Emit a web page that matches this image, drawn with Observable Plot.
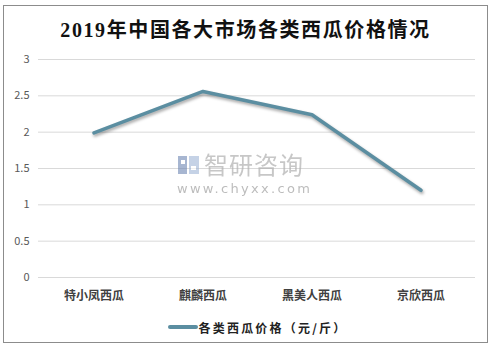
<!DOCTYPE html>
<html><head><meta charset="utf-8">
<script src="https://cdn.jsdelivr.net/npm/d3@7"></script>
<script src="https://cdn.jsdelivr.net/npm/@observablehq/plot@0.6"></script>
<style>
body{margin:0;background:#fff;width:493px;height:351px;overflow:hidden;position:relative;font-family:"Noto Sans CJK SC",sans-serif;}
#box{position:absolute;left:3px;top:5px;width:483px;height:336px;border:1px solid #8c8c8c;background:#fff;}
#title{position:absolute;left:0;top:9px;width:483px;text-align:center;font-family:"Liberation Serif","Noto Sans CJK SC",serif;font-weight:bold;font-size:20px;letter-spacing:1.6px;line-height:30px;color:#111;}
#chart{position:absolute;left:0;top:44px;}
#legend{position:absolute;left:12px;top:306px;width:483px;height:30px;display:flex;justify-content:center;align-items:center;}
#legend .sw{width:30px;height:4px;background:#5b8ea1;border-radius:2px;margin-right:1px;}
#legend .tx{font-size:12px;font-weight:bold;letter-spacing:2.2px;color:#222;}
.wm1{position:absolute;left:204px;top:151px;font-size:24px;line-height:26px;color:#b0b0b0;letter-spacing:1px;opacity:.7}
.wm2{position:absolute;left:177px;top:181px;font-family:"DejaVu Sans",sans-serif;font-size:13px;line-height:15px;color:#a0a0a0;letter-spacing:2.3px;opacity:.7}
.logo{position:absolute;left:177px;top:154px;width:24px;height:22px;opacity:.6}
</style></head>
<body>
<div id="box">
  <div id="title">2019年中国各大市场各类西瓜价格情况</div>
  <div id="chart"></div>
  <div id="legend"><div class="sw"></div><div class="tx">各类西瓜价格（元/斤）</div></div>
</div>
<svg class="logo" viewBox="0 0 24 22"><rect x="1" y="2" width="9" height="18" fill="#6d87b3"/><rect x="12" y="2" width="10" height="18" fill="#9fb5d6"/><rect x="4" y="6" width="4" height="4" fill="#fff"/><rect x="14" y="12" width="5" height="4" fill="#fff"/></svg>
<div class="wm1">智研咨询</div>
<div class="wm2">www.chyxx.com</div>
<script>
const categories = ["特小凤西瓜", "麒麟西瓜", "黑美人西瓜", "京欣西瓜"];
const prices = [1.99, 2.56, 2.24, 1.20];
const yTicks = [0, 0.5, 1, 1.5, 2, 2.5, 3];
const seriesName = "各类西瓜价格（元/斤）";

const data = categories.map((c, i) => ({category: c, price: prices[i]}));

const chart = Plot.plot({
  width: 483,
  height: 262,
  marginLeft: 34,
  marginRight: 12,
  marginTop: 9,
  marginBottom: 35,
  style: {fontFamily: "'Noto Sans CJK SC', sans-serif", background: "transparent", overflow: "visible"},
  x: {type: "band", domain: categories, padding: 0, label: null},
  y: {domain: [0, 3], ticks: yTicks, label: null},
  marks: [
    Plot.gridY(yTicks, {stroke: "#d9d9d9", strokeOpacity: 1, strokeWidth: 1}),
    Plot.axisY(yTicks, {tickSize: 0, tickPadding: 9, fontSize: 11, fill: "#595959", label: null, tickFormat: d => String(d)}),
    Plot.axisX({tickSize: 0, tickPadding: 14, fontSize: 12, fontWeight: "bold", fill: "#404040", label: null}),
    Plot.line(data, {x: "category", y: "price", stroke: "#5b8ea1", strokeWidth: 3.5, strokeLinecap: "round", strokeLinejoin: "round", className: "priceline"})
  ]
});
document.getElementById("chart").appendChild(chart);
d3.select(chart).selectAll(".priceline path").style("filter", "drop-shadow(1px 2px 1.5px rgba(0,0,0,0.35))");
</script>
</body></html>
